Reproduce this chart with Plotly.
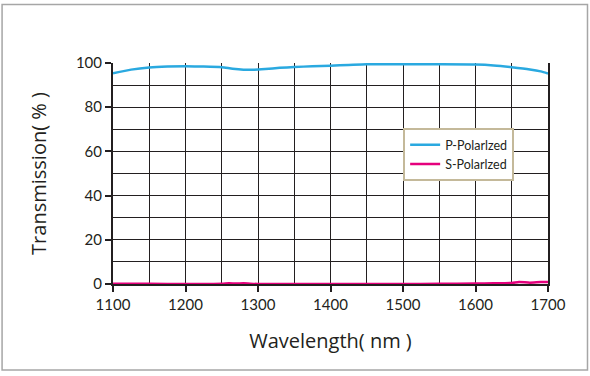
import plotly.graph_objects as go

wavelength_p = [1100, 1125, 1150, 1175, 1200, 1225, 1250, 1265, 1280, 1295, 1310, 1330, 1350, 1375, 1400, 1425, 1450, 1500, 1550, 1600, 1625, 1650, 1675, 1690, 1700]
p_polarized = [95.3, 97.0, 98.0, 98.4, 98.5, 98.4, 98.1, 97.4, 97.0, 97.0, 97.3, 97.8, 98.2, 98.5, 98.8, 99.1, 99.4, 99.4, 99.4, 99.3, 98.9, 98.1, 97.1, 96.2, 95.2]

wavelength_s = [1100, 1150, 1200, 1250, 1260, 1270, 1280, 1300, 1350, 1400, 1500, 1550, 1600, 1625, 1650, 1660, 1675, 1690, 1700]
s_polarized = [0.1, 0.1, 0.0, 0.1, 0.3, 0.2, 0.3, 0.0, 0.0, 0.0, 0.0, 0.1, 0.2, 0.3, 0.5, 0.9, 0.6, 0.9, 0.9]

x_ticks = [1100, 1200, 1300, 1400, 1500, 1600, 1700]
y_ticks = [0, 20, 40, 60, 80, 100]

fig = go.Figure()
fig.add_trace(go.Scatter(x=wavelength_p, y=p_polarized, mode="lines", name="P-Polarlzed",
                         line=dict(color="#2aa9e0", width=2.5, shape="spline", smoothing=0.6)))
fig.add_trace(go.Scatter(x=wavelength_s, y=s_polarized, mode="lines", name="S-Polarlzed",
                         line=dict(color="#e5007d", width=2.5, shape="spline", smoothing=0.6)))

font_family = "Open Sans, DejaVu Sans, sans-serif"
fig.update_layout(
    width=590, height=376,
    margin=dict(l=113, r=42, t=63, b=92),
    paper_bgcolor="white", plot_bgcolor="white",
    showlegend=True,
    legend=dict(x=0.667, y=0.705, xanchor="left", yanchor="top",
                bgcolor="white", bordercolor="#c4b99a", borderwidth=2,
                font=dict(family="Lato, sans-serif", size=12.5, color="#231f20"),
                itemwidth=30, tracegroupgap=2),
    font=dict(family=font_family, color="#231f20"),
    shapes=[dict(type="rect", xref="paper", yref="paper",
                 x0=-0.255, x1=1.0908, y0=-0.3886, y1=1.265,
                 line=dict(color="#a6a6a6", width=1.5), layer="below")],
)
fig.update_xaxes(
    range=[1100, 1700], tickvals=x_ticks, ticktext=[str(v) for v in x_ticks],
    showgrid=True, gridcolor="#231f20", gridwidth=1,
    minor=dict(dtick=50, tick0=1100, showgrid=True, gridcolor="#231f20", gridwidth=1, ticks=""),
    showline=True, linecolor="#231f20", linewidth=2,
    ticks="outside", ticklen=6, tickwidth=2, tickcolor="#231f20",
    tickfont=dict(family="Lato, sans-serif", size=15, color="#231f20"),
    title=dict(text="Wavelength( nm )", font=dict(family=font_family, size=20, color="#231f20"), standoff=22),
    zeroline=False,
)
fig.update_yaxes(
    range=[0, 100], tickvals=y_ticks, ticktext=[str(v) for v in y_ticks],
    showgrid=True, gridcolor="#231f20", gridwidth=1,
    minor=dict(dtick=10, tick0=0, showgrid=True, gridcolor="#231f20", gridwidth=1, ticks=""),
    showline=True, linecolor="#231f20", linewidth=2, mirror=True,
    ticks="outside", ticklen=6, tickwidth=2, tickcolor="#231f20",
    tickfont=dict(family="Lato, sans-serif", size=15, color="#231f20"),
    title=dict(text="Transmission( % )", font=dict(family=font_family, size=20, color="#231f20"), standoff=24),
    zeroline=False,
)

fig.write_html("out.html", config={"displayModeBar": False},
               post_script="document.body.style.margin='0';")
